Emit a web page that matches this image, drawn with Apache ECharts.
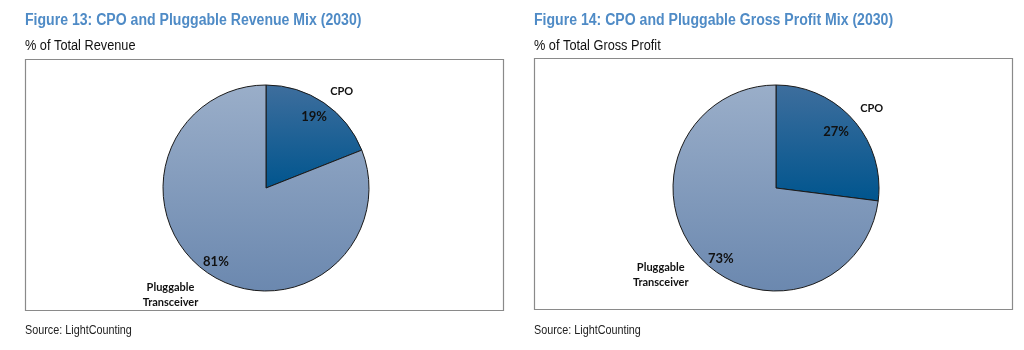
<!DOCTYPE html>
<html>
<head>
<meta charset="utf-8">
<script src="https://cdn.jsdelivr.net/npm/echarts@6/dist/echarts.min.js"></script>
<style>
html,body{margin:0;padding:0;background:#fff;}
#c{width:1024px;height:350px;}
</style>
</head>
<body>
<div id="c"></div>
<script>
const categories = ['CPO', 'Pluggable\nTransceiver'];
const revenueShare = [19, 81];
const grossProfitShare = [27, 73];
const figureTitles = ['Figure 13: CPO and Pluggable Revenue Mix (2030)', 'Figure 14: CPO and Pluggable Gross Profit Mix (2030)'];
const subTitles = ['% of Total Revenue', '% of Total Gross Profit'];
const sourceText = 'Source: LightCounting';

const chart = echarts.init(document.getElementById('c'), null, {renderer: 'canvas'});

const cpoColor = {type: 'linear', x: 0, y: 0, x2: 0, y2: 1, colorStops: [{offset: 0, color: '#3e6e9d'}, {offset: 1, color: '#00558e'}]};
const plugColor = {type: 'linear', x: 0, y: 0, x2: 0, y2: 1, colorStops: [{offset: 0, color: '#9aaec9'}, {offset: 1, color: '#6b88af'}]};

function buildPie(center, values, lens, dists, pctShift) {
  const data = values.map((v, i) => ({
    name: categories[i], value: v,
    itemStyle: {color: i === 0 ? cpoColor : plugColor},
    label: {distanceToLabelLine: dists[i]},
    labelLine: {show: false, length: lens[i], length2: 0}
  }));
  return [{
    type: 'pie', center: center, radius: 103, startAngle: 90, clockwise: true,
    silent: true, animation: false,
    itemStyle: {borderColor: '#1a1a1a', borderWidth: 1},
    label: {
      show: true, position: 'outside',
      formatter: p => p.name.split('\n').map(s => '{n|' + s + '}').join('\n'),
      rich: {n: {fontFamily: 'Lato', fontWeight: 'bold', fontSize: 11, color: '#111', lineHeight: 15, width: 60, align: 'center'}}
    },
    labelLine: {show: false},
    emphasis: {disabled: true},
    data: data
  }, {
    type: 'pie', center: center, radius: [62, 103], startAngle: 90, clockwise: true,
    silent: true, animation: false, z: 5,
    itemStyle: {color: 'rgba(0,0,0,0)', borderWidth: 0},
    label: {show: true, position: 'inside', formatter: '{c}%', fontFamily: 'Lato', fontWeight: 'bold', fontSize: 13, color: '#111'},
    labelLayout: p => pctShift[p.dataIndex],
    labelLine: {show: false},
    emphasis: {disabled: true},
    data: values.map((v, i) => ({name: categories[i], value: v}))
  }];
}

function txt(x, y, text, font, fill, sx) {
  return {type: 'text', x: x, y: y, scaleX: sx, silent: true,
    style: {x: 0, y: 0, text: text, font: font, fill: fill, verticalAlign: 'top', align: 'left'}};
}
const titleFont = 'bold 16px "Liberation Sans", Arial, sans-serif';
const subFont = '14px "Liberation Sans", Arial, sans-serif';
const srcFont = '12px "Liberation Sans", Arial, sans-serif';
const titleColor = '#4f8bc6';

chart.setOption({
  backgroundColor: '#fff',
  animation: false,
  graphic: [
    txt(25, 13, figureTitles[0], titleFont, titleColor, 0.88),
    txt(25, 39, subTitles[0], subFont, '#111', 0.91),
    txt(25, 325, sourceText, srcFont, '#222', 0.9),
    txt(534, 13, figureTitles[1], titleFont, titleColor, 0.88),
    txt(534, 39, subTitles[1], subFont, '#111', 0.91),
    txt(534, 325, sourceText, srcFont, '#222', 0.9),
    {type: 'rect', shape: {x: 25.5, y: 59.5, width: 478, height: 251}, style: {fill: 'none', stroke: '#8a8a8a', lineWidth: 1.2}, silent: true},
    {type: 'rect', shape: {x: 534.5, y: 58.5, width: 478, height: 251}, style: {fill: 'none', stroke: '#8a8a8a', lineWidth: 1.2}, silent: true}
  ],
  series: [].concat(
    buildPie([266, 188], revenueShare, [14, 26], [-20, -7], [{}, {dy: 3, dx: -2}]),
    buildPie([776, 188], grossProfitShare, [18, 28], [-25, -13], [{dx: -4}, {dy: 14, dx: 9}])
  )
});
</script>
</body>
</html>
